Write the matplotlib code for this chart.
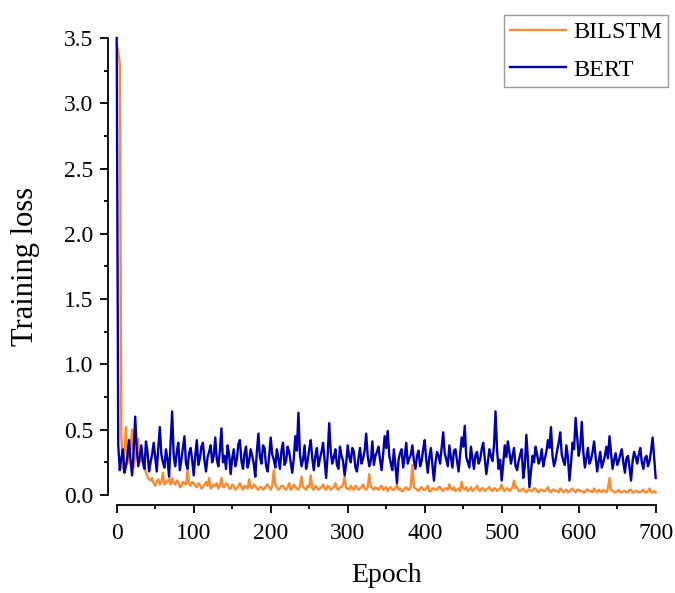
import matplotlib
matplotlib.use('Agg')
import matplotlib.pyplot as plt
import numpy as np
from matplotlib.ticker import MultipleLocator, FormatStrFormatter

# training loss every 2 epochs (0, 2, ..., 700)
epoch_step = 2
bilstm = [
    3.45, 3.40, 3.30, 0.45, 0.20, 0.33, 0.52, 0.24, 0.30, 0.36,
    0.50, 0.21, 0.29, 0.33, 0.43, 0.25, 0.27, 0.30, 0.22, 0.17,
    0.14, 0.12, 0.11, 0.13, 0.09, 0.07, 0.10, 0.12, 0.08, 0.10,
    0.17, 0.08, 0.09, 0.11, 0.12, 0.08, 0.13, 0.09, 0.08, 0.11,
    0.10, 0.06, 0.07, 0.10, 0.09, 0.08, 0.19, 0.09, 0.07, 0.10,
    0.09, 0.07, 0.06, 0.09, 0.08, 0.05, 0.06, 0.08, 0.10, 0.07,
    0.13, 0.05, 0.06, 0.08, 0.07, 0.09, 0.05, 0.07, 0.13, 0.06,
    0.06, 0.09, 0.08, 0.05, 0.05, 0.08, 0.07, 0.04, 0.05, 0.07,
    0.09, 0.06, 0.04, 0.07, 0.06, 0.05, 0.12, 0.06, 0.05, 0.08,
    0.07, 0.05, 0.04, 0.06, 0.06, 0.04, 0.05, 0.07, 0.08, 0.06,
    0.04, 0.07, 0.19, 0.08, 0.06, 0.04, 0.05, 0.07, 0.07, 0.05,
    0.04, 0.06, 0.09, 0.04, 0.05, 0.08, 0.06, 0.05, 0.04, 0.07,
    0.14, 0.06, 0.05, 0.04, 0.07, 0.06, 0.15, 0.05, 0.04, 0.07,
    0.06, 0.04, 0.05, 0.06, 0.08, 0.05, 0.04, 0.07, 0.06, 0.04,
    0.05, 0.06, 0.09, 0.05, 0.04, 0.06, 0.06, 0.08, 0.14, 0.05,
    0.05, 0.04, 0.07, 0.05, 0.04, 0.07, 0.06, 0.04, 0.05, 0.06,
    0.08, 0.05, 0.04, 0.06, 0.16, 0.07, 0.05, 0.04, 0.06, 0.05,
    0.04, 0.06, 0.07, 0.04, 0.05, 0.06, 0.03, 0.05, 0.06, 0.04,
    0.04, 0.05, 0.08, 0.04, 0.05, 0.03, 0.03, 0.05, 0.06, 0.04,
    0.04, 0.07, 0.23, 0.06, 0.05, 0.04, 0.03, 0.05, 0.06, 0.04,
    0.04, 0.05, 0.07, 0.03, 0.03, 0.05, 0.05, 0.04, 0.04, 0.06,
    0.06, 0.04, 0.03, 0.05, 0.05, 0.04, 0.08, 0.05, 0.04, 0.06,
    0.03, 0.04, 0.05, 0.03, 0.10, 0.05, 0.04, 0.06, 0.03, 0.04,
    0.06, 0.03, 0.04, 0.05, 0.07, 0.04, 0.03, 0.05, 0.05, 0.03,
    0.04, 0.05, 0.06, 0.04, 0.03, 0.05, 0.05, 0.03, 0.04, 0.05,
    0.08, 0.04, 0.03, 0.05, 0.05, 0.03, 0.04, 0.06, 0.11, 0.05,
    0.06, 0.03, 0.03, 0.04, 0.05, 0.03, 0.02, 0.04, 0.04, 0.03,
    0.03, 0.05, 0.05, 0.03, 0.02, 0.04, 0.04, 0.03, 0.03, 0.04,
    0.06, 0.03, 0.02, 0.04, 0.04, 0.03, 0.03, 0.02, 0.05, 0.04,
    0.02, 0.03, 0.04, 0.02, 0.03, 0.04, 0.05, 0.03, 0.02, 0.04,
    0.04, 0.03, 0.03, 0.02, 0.02, 0.04, 0.04, 0.03, 0.03, 0.02,
    0.05, 0.03, 0.02, 0.04, 0.03, 0.02, 0.04, 0.03, 0.02, 0.05,
    0.13, 0.04, 0.03, 0.02, 0.02, 0.03, 0.04, 0.02, 0.02, 0.03,
    0.03, 0.02, 0.02, 0.04, 0.04, 0.02, 0.02, 0.03, 0.03, 0.02,
    0.02, 0.03, 0.04, 0.02, 0.02, 0.03, 0.05, 0.02, 0.02, 0.03,
    0.02,
]
bert = [
    3.50, 0.38, 0.19, 0.28, 0.35, 0.17, 0.22, 0.30, 0.42, 0.26,
    0.15, 0.33, 0.60, 0.35, 0.22, 0.29, 0.38, 0.25, 0.20, 0.41,
    0.33, 0.18, 0.25, 0.31, 0.40, 0.29, 0.18, 0.36, 0.52, 0.31,
    0.25, 0.21, 0.35, 0.27, 0.14, 0.40, 0.64, 0.30, 0.22, 0.33,
    0.40, 0.19, 0.27, 0.36, 0.45, 0.24, 0.20, 0.32, 0.36, 0.27,
    0.15, 0.30, 0.42, 0.23, 0.28, 0.37, 0.40, 0.26, 0.18, 0.29,
    0.33, 0.38, 0.25, 0.30, 0.44, 0.27, 0.22, 0.34, 0.51, 0.25,
    0.30, 0.20, 0.38, 0.31, 0.16, 0.28, 0.35, 0.22, 0.27, 0.39,
    0.42, 0.26, 0.20, 0.32, 0.37, 0.21, 0.26, 0.35, 0.30, 0.24,
    0.14, 0.33, 0.47, 0.29, 0.24, 0.38, 0.36, 0.22, 0.18, 0.30,
    0.44, 0.31, 0.27, 0.21, 0.35, 0.28, 0.20, 0.34, 0.40, 0.23,
    0.26, 0.37, 0.33, 0.25, 0.17, 0.28, 0.45, 0.34, 0.63, 0.31,
    0.22, 0.27, 0.38, 0.20, 0.26, 0.35, 0.42, 0.28, 0.19, 0.30,
    0.36, 0.22, 0.28, 0.33, 0.40, 0.26, 0.13, 0.31, 0.55, 0.33,
    0.24, 0.29, 0.35, 0.23, 0.20, 0.37, 0.30, 0.26, 0.15, 0.24,
    0.38, 0.29, 0.25, 0.36, 0.33, 0.21, 0.18, 0.28, 0.36, 0.24,
    0.28, 0.34, 0.47, 0.30, 0.22, 0.26, 0.41, 0.23, 0.30, 0.33,
    0.37, 0.27, 0.19, 0.31, 0.45, 0.36, 0.49, 0.30, 0.24, 0.19,
    0.35, 0.22, 0.09, 0.27, 0.32, 0.35, 0.21, 0.29, 0.40, 0.24,
    0.28, 0.31, 0.38, 0.26, 0.20, 0.30, 0.34, 0.22, 0.26, 0.35,
    0.42, 0.27, 0.17, 0.29, 0.36, 0.23, 0.11, 0.25, 0.33, 0.30,
    0.24, 0.36, 0.48, 0.32, 0.27, 0.22, 0.38, 0.29, 0.21, 0.34,
    0.35, 0.26, 0.18, 0.31, 0.44, 0.37, 0.53, 0.29, 0.25, 0.21,
    0.37, 0.28, 0.20, 0.31, 0.33, 0.24, 0.27, 0.35, 0.40, 0.28,
    0.16, 0.25, 0.35, 0.30, 0.26, 0.38, 0.64, 0.34, 0.20, 0.27,
    0.11, 0.24, 0.38, 0.29, 0.41, 0.33, 0.24, 0.30, 0.36, 0.22,
    0.19, 0.26, 0.31, 0.35, 0.13, 0.22, 0.46, 0.28, 0.06, 0.18,
    0.30, 0.25, 0.37, 0.31, 0.24, 0.27, 0.35, 0.22, 0.28, 0.33,
    0.42, 0.36, 0.52, 0.30, 0.22, 0.27, 0.34, 0.40, 0.48, 0.31,
    0.26, 0.23, 0.38, 0.29, 0.11, 0.24, 0.40, 0.35, 0.59, 0.44,
    0.30, 0.37, 0.56, 0.33, 0.21, 0.28, 0.36, 0.24, 0.27, 0.33,
    0.41, 0.29, 0.18, 0.26, 0.33, 0.21, 0.25, 0.30, 0.37, 0.28,
    0.45, 0.32, 0.20, 0.27, 0.32, 0.23, 0.26, 0.31, 0.35, 0.25,
    0.17, 0.28, 0.30, 0.21, 0.11, 0.26, 0.33, 0.29, 0.24, 0.31,
    0.36, 0.25, 0.20, 0.28, 0.30, 0.22, 0.26, 0.34, 0.44, 0.29,
    0.13,
]
series_names = ['BILSTM', 'BERT']
series_colors = ['#F98B33', '#0000A8']

plt.rcParams['font.family'] = ['Liberation Serif', 'DejaVu Serif']

fig = plt.figure(figsize=(6.75, 5.93), dpi=100)
ax = fig.add_axes([0.1729, 0.1653, 0.7985, 0.7706])

for name, color, values in zip(series_names, series_colors, [bilstm, bert]):
    epochs = np.arange(len(values)) * epoch_step
    ax.plot(epochs, values, color=color, lw=1.7, label=name, clip_on=False)

ax.set_xlim(0, 700)
ax.set_ylim(0, 3.5)
ax.xaxis.set_major_locator(MultipleLocator(100))
ax.xaxis.set_minor_locator(MultipleLocator(50))
ax.yaxis.set_major_locator(MultipleLocator(0.5))
ax.yaxis.set_minor_locator(MultipleLocator(0.25))
ax.yaxis.set_major_formatter(FormatStrFormatter('%.1f'))

# Origin-style detached axes
for side in ['top', 'right']:
    ax.spines[side].set_visible(False)
ax.spines['left'].set_position(('outward', 6))
ax.spines['bottom'].set_position(('outward', 7))
ax.spines['left'].set_bounds(0, 3.5)
ax.spines['bottom'].set_bounds(0, 700)
for side in ['left', 'bottom']:
    ax.spines[side].set_linewidth(1.3)

ax.tick_params(which='major', direction='out', length=6, width=1.3, labelsize=17)
ax.tick_params(axis='x', which='major', pad=7)
ax.tick_params(axis='y', which='major', pad=5)
ax.tick_params(which='minor', direction='out', length=3, width=1.3)

ax.set_xlabel('Epoch', fontsize=20, labelpad=14)
ax.set_ylabel('Training loss', fontsize=22, labelpad=17)

leg = ax.legend(loc='upper right', bbox_to_anchor=(0.9896, 0.9747),
                bbox_transform=fig.transFigure, fontsize=17.5, frameon=True,
                fancybox=False, edgecolor='#808080', handlelength=2.3,
                handletextpad=0.3, labelspacing=0.65, borderpad=0.25,
                borderaxespad=0)
leg.get_frame().set_linewidth(1.0)

fig.savefig('out.png', dpi=100)
